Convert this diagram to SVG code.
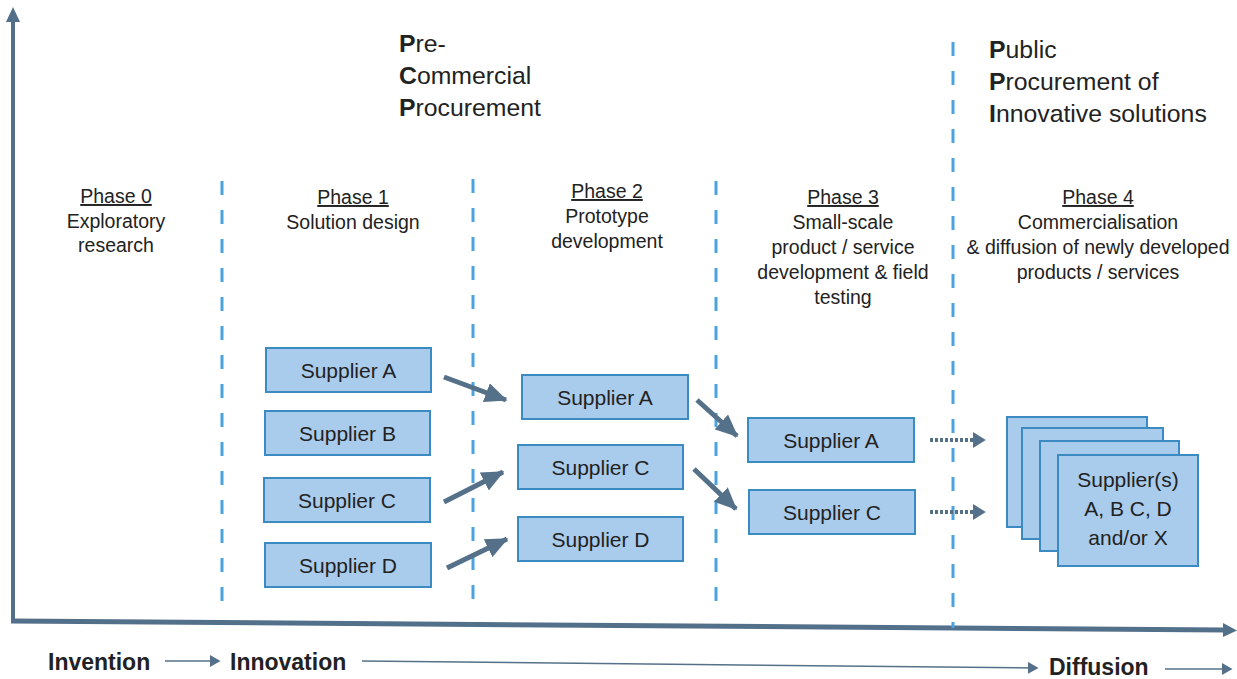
<svg xmlns="http://www.w3.org/2000/svg" width="1237" height="679" viewBox="0 0 1237 679">
<style>
text{font-family:"Liberation Sans",Arial,sans-serif;fill:#222;}
.ph{font-size:19.5px;text-anchor:middle;}
.u{text-decoration:underline;}
.ttl{font-size:24.8px;}
.b{font-weight:bold;}
.box{fill:#a9cbec;stroke:#3b8bc2;stroke-width:2;}
.bt{font-size:21px;text-anchor:middle;}
.dash{stroke:#4aa3df;stroke-width:3;stroke-dasharray:14 15;fill:none;}
.arr{stroke:#557189;stroke-width:5;fill:none;marker-end:url(#ah);}
.dot{stroke:#557189;stroke-width:4;stroke-dasharray:3 2;fill:none;marker-end:url(#ah2);}
.thin{stroke:#557189;stroke-width:1.5;fill:none;marker-end:url(#ah3);}
.bl{font-size:23px;font-weight:bold;}
</style>
<defs>
<marker id="ah" markerWidth="5" markerHeight="4" refX="4.2" refY="2" orient="auto" markerUnits="strokeWidth"><path d="M0,0 L4.5,2 L0,4 z" fill="#557189"/></marker>
<marker id="ah2" markerWidth="4" markerHeight="4" refX="3" refY="2" orient="auto" markerUnits="strokeWidth"><path d="M0,0 L3.2,2 L0,4 z" fill="#557189"/></marker>
<marker id="ah3" markerWidth="8" markerHeight="8" refX="6" refY="4" orient="auto" markerUnits="strokeWidth"><path d="M0,0 L7,4 L0,8 z" fill="#557189"/></marker>
</defs>

<g id="axes">
<line x1="13" y1="622" x2="13" y2="20" stroke="#52708a" stroke-width="4"/>
<path d="M6,22 L13,7 L20,22 z" fill="#52708a"/>
<line x1="11" y1="621" x2="1225" y2="630" stroke="#52708a" stroke-width="5"/>
<path d="M1223,623 L1237,630.5 L1223,637 z" fill="#52708a"/>
</g>

<g id="phase-dividers">
<line class="dash" x1="222" y1="181" x2="222" y2="613"/>
<line class="dash" x1="473" y1="179" x2="473" y2="611"/>
<line class="dash" x1="716" y1="181" x2="716" y2="613"/>
<line class="dash" x1="953" y1="42" x2="953" y2="628"/>
</g>

<g id="pcp-title" class="ttl">
<text x="399" y="52"><tspan class="b">P</tspan>re-</text>
<text x="399" y="84"><tspan class="b">C</tspan>ommercial</text>
<text x="399" y="116"><tspan class="b">P</tspan>rocurement</text>
</g>
<g id="ppi-title" class="ttl">
<text x="989" y="58"><tspan class="b">P</tspan>ublic</text>
<text x="989" y="90"><tspan class="b">P</tspan>rocurement of</text>
<text x="989" y="122"><tspan class="b">I</tspan>nnovative solutions</text>
</g>

<g id="phase0" class="ph">
<text x="116" y="203" class="u">Phase 0</text>
<text x="116" y="228">Exploratory</text>
<text x="116" y="252">research</text>
</g>
<g id="phase1" class="ph">
<text x="353" y="204" class="u">Phase 1</text>
<text x="353" y="229">Solution design</text>
</g>
<g id="phase2" class="ph">
<text x="607" y="198" class="u">Phase 2</text>
<text x="607" y="223">Prototype</text>
<text x="607" y="248">development</text>
</g>
<g id="phase3" class="ph">
<text x="843" y="204" class="u">Phase 3</text>
<text x="843" y="229">Small-scale</text>
<text x="843" y="254">product / service</text>
<text x="843" y="279">development &amp; field</text>
<text x="843" y="304">testing</text>
</g>
<g id="phase4" class="ph">
<text x="1098" y="204" class="u">Phase 4</text>
<text x="1098" y="229">Commercialisation</text>
<text x="1098" y="254">&amp; diffusion of newly developed</text>
<text x="1098" y="279">products / services</text>
</g>

<g id="p1-supplier-a"><rect class="box" x="266" y="348" width="165" height="44"/><text class="bt" x="348.5" y="377.5">Supplier A</text></g>
<g id="p1-supplier-b"><rect class="box" x="265" y="411" width="165" height="44"/><text class="bt" x="347.5" y="440.5">Supplier B</text></g>
<g id="p1-supplier-c"><rect class="box" x="264" y="478" width="166" height="44"/><text class="bt" x="347" y="507.5">Supplier C</text></g>
<g id="p1-supplier-d"><rect class="box" x="265" y="543" width="166" height="44"/><text class="bt" x="348" y="572.5">Supplier D</text></g>

<g id="p2-supplier-a"><rect class="box" x="522" y="375" width="166" height="44"/><text class="bt" x="605" y="404.5">Supplier A</text></g>
<g id="p2-supplier-c"><rect class="box" x="518" y="445" width="165" height="44"/><text class="bt" x="600.5" y="474.5">Supplier C</text></g>
<g id="p2-supplier-d"><rect class="box" x="518" y="517" width="165" height="44"/><text class="bt" x="600.5" y="546.5">Supplier D</text></g>

<g id="p3-supplier-a"><rect class="box" x="748" y="418" width="166" height="44"/><text class="bt" x="831" y="447.5">Supplier A</text></g>
<g id="p3-supplier-c"><rect class="box" x="749" y="490" width="166" height="44"/><text class="bt" x="832" y="519.5">Supplier C</text></g>

<g id="p4-suppliers">
<rect class="box" x="1007" y="417" width="140" height="110"/>
<rect class="box" x="1022" y="428" width="141" height="111"/>
<rect class="box" x="1040" y="441" width="139" height="110"/>
<rect class="box" x="1058" y="455" width="140" height="111"/>
<text class="bt" x="1128" y="487">Supplier(s)</text>
<text class="bt" x="1128" y="516">A, B C, D</text>
<text class="bt" x="1128" y="545">and/or X</text>
</g>

<g id="connectors">
<line class="arr" x1="444" y1="377" x2="506" y2="400"/>
<line class="arr" x1="444" y1="502" x2="503" y2="472"/>
<line class="arr" x1="447" y1="568" x2="507" y2="539"/>
<line class="arr" x1="697" y1="400" x2="737" y2="436"/>
<line class="arr" x1="694" y1="469" x2="736" y2="509"/>
<line class="dot" x1="930" y1="440" x2="985" y2="440"/>
<line class="dot" x1="930" y1="512" x2="985" y2="512"/>
</g>

<g id="timeline">
<text class="bl" x="48" y="670">Invention</text>
<line class="thin" x1="165" y1="661" x2="219" y2="661"/>
<text class="bl" x="230" y="670">Innovation</text>
<line class="thin" x1="362" y1="661" x2="1037" y2="668"/>
<text class="bl" x="1049" y="675">Diffusion</text>
<line class="thin" x1="1165" y1="669" x2="1231" y2="669"/>
</g>
</svg>
